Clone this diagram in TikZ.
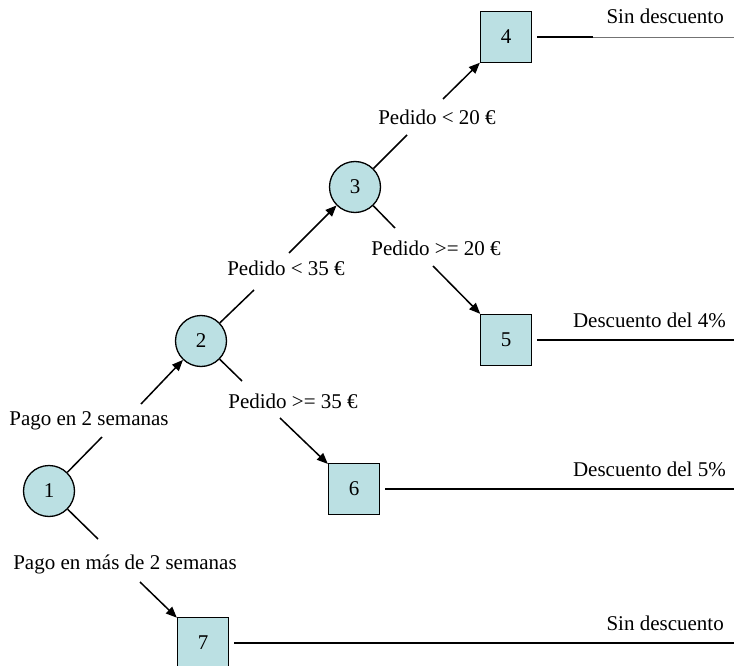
\documentclass[tikz,border=0pt]{standalone}
\usepackage{fontspec}
\setmainfont{Liberation Serif}
\usetikzlibrary{arrows.meta}
\definecolor{nodefill}{HTML}{BBE0E3}
\begin{document}
\begin{tikzpicture}[x=1pt,y=-1pt,
  every node/.style={font=\fontsize{21}{25}\selectfont},
  chance/.style={circle, draw, line width=1.3pt, fill=nodefill, minimum size=51pt, inner sep=0pt},
  leaf/.style={rectangle, draw, line width=1.3pt, fill=nodefill, minimum size=51pt, inner sep=0pt},
  lbl/.style={inner sep=0pt},
  res/.style={inner sep=0pt, anchor=base east},
  seg/.style={line width=1.5pt},
  arr/.style={line width=1.5pt, -{Triangle[length=11pt,width=9pt]}},
  outl/.style={line width=1.5pt},
  thinl/.style={line width=0.8pt, draw=black!55}]
\useasboundingbox (0,0) rectangle (734,666);
\clip (0,0) rectangle (734,666);
% decision / chance nodes
\node[chance] (n1) at (49,491) {1};
\node[chance] (n2) at (201,341) {2};
\node[chance] (n3) at (355,187) {3};
% leaves
\node[leaf] (n4) at (506,37) {4};
\node[leaf] (n5) at (506,340) {5};
\node[leaf] (n6) at (354,489) {6};
\node[leaf] (n7) at (203,643) {7};
% edge labels
\node[lbl] (l12) at (89,421) {Pago en 2 semanas};
\node[lbl] (l23) at (286,268) {Pedido < 35 €};
\node[lbl] (l34) at (437,117) {Pedido < 20 €};
\node[lbl] (l35) at (436,248) {Pedido >= 20 €};
\node[lbl] (l26) at (293,401) {Pedido >= 35 €};
\node[lbl] (l17) at (125,564) {Pago en más de 2 semanas};
% free ends of split connectors
\coordinate (a12) at (102,437); \coordinate (b12) at (141,404);
\coordinate (a23) at (254,290); \coordinate (b23) at (289,253);
\coordinate (a34) at (407,135); \coordinate (b34) at (443,99);
\coordinate (a35) at (395,228); \coordinate (b35) at (433,266);
\coordinate (a26) at (242,381); \coordinate (b26) at (280,418);
\coordinate (a17) at (98,539);  \coordinate (b17) at (140,582);
\draw[seg] (n1) -- (a12); \draw[arr] (b12) -- (n2);
\draw[seg] (n2) -- (a23); \draw[arr] (b23) -- (n3);
\draw[seg] (n3) -- (a34); \draw[arr] (b34) -- (n4);
\draw[seg] (n3) -- (a35); \draw[arr] (b35) -- (n5);
\draw[seg] (n2) -- (a26); \draw[arr] (b26) -- (n6);
\draw[seg] (n1) -- (a17); \draw[arr] (b17) -- (n7);
% outcome lines
\coordinate (m4) at (593,37);
\coordinate (e4) at (734,37);
\coordinate (e5) at (734,340);
\coordinate (e6) at (734,489);
\coordinate (e7) at (734,643);
\draw[outl] ([xshift=5pt]n4.east) -- (m4);
\draw[thinl] (m4) -- (e4);
\draw[outl] ([xshift=5pt]n5.east) -- (e5);
\draw[outl] ([xshift=5pt]n6.east) -- (e6);
\draw[outl] ([xshift=5pt]n7.east) -- (e7);
% outcome texts
\node[res] (r4) at (724,24) {Sin descuento};
\node[res] (r5) at (726,327) {Descuento del 4\%};
\node[res] (r6) at (726,476) {Descuento del 5\%};
\node[res] (r7) at (724,630) {Sin descuento};
\end{tikzpicture}
\end{document}
